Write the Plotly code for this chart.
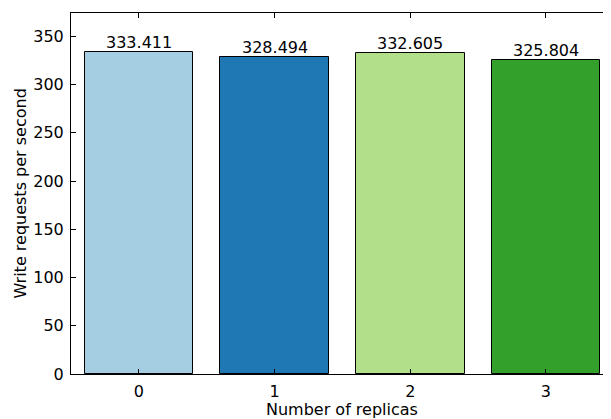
import plotly.graph_objects as go

categories = [0, 1, 2, 3]
values = [333.411, 328.494, 332.605, 325.804]
labels = ["333.411", "328.494", "332.605", "325.804"]
colors = ["#a6cee3", "#1f78b4", "#b2df8a", "#33a02c"]
y_ticks = [0, 50, 100, 150, 200, 250, 300, 350]

# the page body has an 8px margin, so the figure is 8px smaller than the window
OFF = 8
W, H = 611 - OFF, 419 - OFF
ml, mr, mt, mb = 71 - OFF, 0, 13 - OFF, 45
pw = W - ml - mr
ph = H - mt - mb
px_per_cat = 135.7
font = dict(family="DejaVu Sans", size=16, color="black")

fig = go.Figure()
fig.add_trace(go.Bar(
    x=categories, y=values, width=0.8,
    marker=dict(color=colors, line=dict(color="black", width=1)),
    hoverinfo="skip",
))
for c, v, t in zip(categories, values, labels):
    fig.add_annotation(x=c, y=v, text=t, showarrow=False, xanchor="center",
                       yanchor="bottom", font=font, borderpad=0, yshift=-1)

fig.add_annotation(xref="paper", yref="paper", x=(342 - 71) / pw, y=-(409 - 374) / ph,
                   text="Number of replicas", showarrow=False, xanchor="center",
                   yanchor="middle", font=font)
fig.add_annotation(xref="paper", yref="paper", x=(20 - 71) / pw, y=0.5,
                   text="Write requests per second", showarrow=False, textangle=-90,
                   xanchor="center", yanchor="middle", font=font)

fig.update_layout(
    width=W, height=H,
    margin=dict(l=ml, r=mr, t=mt, b=mb, pad=0),
    plot_bgcolor="white", paper_bgcolor="white",
    showlegend=False, font=font,
    bargap=0,
)
fig.update_xaxes(range=[-0.5, -0.5 + pw / px_per_cat], tickvals=categories,
                 ticktext=[str(c) for c in categories],
                 showgrid=False, zeroline=False, showline=True, linecolor="black",
                 linewidth=1, mirror="ticks", ticks="inside", ticklen=5,
                 tickcolor="black", tickfont=font, ticklabelstandoff=3)
fig.update_yaxes(range=[0, 374.3], tickvals=y_ticks,
                 showgrid=False, zeroline=False, showline=True, linecolor="black",
                 linewidth=1, mirror="ticks", ticks="inside", ticklen=5,
                 tickcolor="black", tickfont=font, ticklabelstandoff=3)

fig.write_html("out.html")
